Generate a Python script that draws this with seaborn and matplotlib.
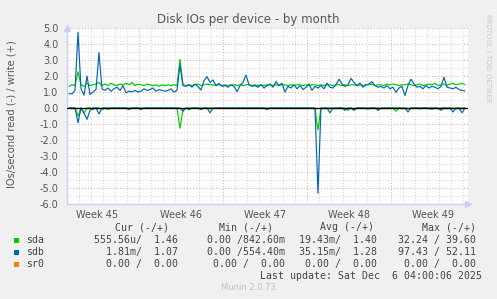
import matplotlib
matplotlib.use("Agg")
import matplotlib.pyplot as plt
import matplotlib.dates as mdates
import numpy as np
import pandas as pd
import seaborn as sns

# ---- data (6-hourly samples, Nov 3 04:00 .. Dec 6 04:00) ----
sda_write = [
    1.35, 1.45, 1.40, 2.27,
    1.45, 1.35, 1.55, 1.40,
    1.45, 1.50, 1.60, 1.40,
    1.50, 1.40, 1.55, 1.45,
    1.40, 1.50, 1.45, 1.55,
    1.45, 1.60, 1.40, 1.50,
    1.45, 1.40, 1.50, 1.45,
    1.40, 1.45, 1.35, 1.45,
    1.40, 1.45, 1.40, 1.45,
    1.40, 3.04, 1.45, 1.40,
    1.45, 1.40, 1.45, 1.50,
    1.40, 1.45, 1.50, 1.45,
    1.45, 1.40, 1.45, 1.40,
    1.45, 1.40, 1.45, 1.45,
    1.40, 1.45, 1.40, 1.45,
    1.45, 1.40, 1.45, 1.40,
    1.45, 1.40, 1.45, 1.45,
    1.40, 1.45, 1.40, 1.45,
    1.45, 1.40, 1.45, 1.40,
    1.45, 1.45, 1.40, 1.45,
    1.40, 1.45, 1.45, 1.40,
    1.45, 1.40, 1.45, 1.45,
    1.40, 1.45, 1.45, 1.40,
    1.45, 1.40, 1.45, 1.45,
    1.40, 1.45, 1.40, 1.45,
    1.45, 1.50, 1.40, 1.45,
    1.45, 1.40, 1.50, 1.45,
    1.50, 1.45, 1.40, 1.45,
    1.45, 1.50, 1.45, 1.40,
    1.45, 1.50, 1.40, 1.45,
    1.50, 1.45, 1.55, 1.40,
    1.45, 1.50, 1.40, 1.50,
    1.55, 1.45, 1.50, 1.55,
    1.46,
]
sdb_write = [
    0.90, 0.88, 1.10, 4.73,
    1.20, 0.80, 2.00, 0.85,
    1.00, 1.15, 3.46, 1.20,
    1.10, 1.25, 1.05, 1.20,
    1.30, 1.10, 1.40, 0.95,
    1.05, 1.00, 1.10, 1.00,
    1.05, 1.20, 1.10, 1.15,
    1.25, 1.05, 1.15, 1.10,
    1.05, 1.10, 1.20, 1.00,
    1.10, 2.69, 1.40, 1.35,
    1.45, 1.30, 1.50, 1.35,
    1.12, 1.70, 1.96, 1.60,
    1.75, 1.40, 1.55, 1.35,
    1.40, 1.30, 1.45, 1.35,
    1.02, 1.40, 1.60, 2.06,
    1.45, 1.35, 1.40, 1.30,
    1.45, 1.25, 1.40, 1.50,
    1.30, 1.65, 1.40, 1.55,
    1.00, 1.35, 1.25, 1.45,
    1.20, 1.40, 1.15, 1.30,
    1.50, 1.10, 1.35, 1.25,
    1.40, 1.20, 1.55, 1.30,
    1.25, 1.45, 1.80, 1.50,
    1.35, 1.45, 1.85, 1.60,
    1.40, 1.55, 1.30, 1.45,
    1.50, 1.65, 1.40, 1.30,
    1.35, 1.25, 1.40, 1.20,
    1.30, 0.98, 1.25, 1.35,
    0.78, 1.40, 1.80, 1.50,
    1.30, 1.35, 1.20, 1.40,
    1.25, 1.35, 1.30, 1.20,
    1.35, 1.92, 1.30, 1.25,
    1.20, 1.30, 1.15, 1.10,
    1.07,
]
sda_read = [
    0.00, 0.00, 0.00, 0.50,
    0.00, 0.30, 0.00, 0.00,
    0.10, 0.00, 0.00, 0.10,
    0.00, 0.10, 0.00, 0.00,
    0.00, 0.00, 0.00, 0.00,
    0.00, 0.00, 0.00, 0.00,
    0.00, 0.00, 0.00, 0.00,
    0.00, 0.00, 0.00, 0.00,
    0.00, 0.00, 0.00, 0.00,
    0.00, 1.27, 0.10, 0.00,
    0.00, 0.00, 0.00, 0.00,
    0.00, 0.00, 0.00, 0.00,
    0.00, 0.00, 0.00, 0.00,
    0.00, 0.00, 0.00, 0.00,
    0.00, 0.00, 0.00, 0.00,
    0.00, 0.00, 0.00, 0.00,
    0.00, 0.00, 0.00, 0.00,
    0.00, 0.00, 0.00, 0.00,
    0.00, 0.00, 0.00, 0.00,
    0.00, 0.00, 0.00, 0.00,
    0.00, 0.00, 0.05, 1.37,
    0.00, 0.05, 0.00, 0.00,
    0.00, 0.05, 0.00, 0.00,
    0.00, 0.15, 0.00, 0.10,
    0.00, 0.00, 0.00, 0.05,
    0.05, 0.00, 0.00, 0.00,
    0.05, 0.00, 0.05, 0.00,
    0.00, 0.20, 0.00, 0.05,
    0.00, 0.05, 0.00, 0.00,
    0.00, 0.05, 0.00, 0.00,
    0.05, 0.08, 0.00, 0.05,
    0.00, 0.00, 0.05, 0.00,
    0.00, 0.05, 0.00, 0.00,
    0.00,
]
sdb_read = [
    0.00, 0.00, 0.00, 0.92,
    0.00, 0.33, 0.71, 0.15,
    0.00, 0.00, 0.37, 0.00,
    0.00, 0.00, 0.00, 0.00,
    0.00, 0.00, 0.00, 0.00,
    0.10, 0.00, 0.00, 0.00,
    0.10, 0.00, 0.00, 0.00,
    0.00, 0.00, 0.00, 0.00,
    0.00, 0.00, 0.00, 0.00,
    0.00, 0.00, 0.20, 0.00,
    0.10, 0.00, 0.00, 0.00,
    0.10, 0.00, 0.00, 0.30,
    0.00, 0.00, 0.00, 0.00,
    0.00, 0.00, 0.00, 0.00,
    0.00, 0.00, 0.00, 0.00,
    0.00, 0.00, 0.00, 0.00,
    0.00, 0.00, 0.10, 0.00,
    0.00, 0.00, 0.00, 0.00,
    0.00, 0.00, 0.00, 0.00,
    0.00, 0.00, 0.00, 0.00,
    0.00, 0.00, 0.00, 5.33,
    0.00, 0.00, 0.00, 0.30,
    0.00, 0.00, 0.00, 0.00,
    0.15, 0.00, 0.00, 0.15,
    0.00, 0.00, 0.00, 0.00,
    0.00, 0.00, 0.00, 0.15,
    0.00, 0.00, 0.00, 0.00,
    0.00, 0.00, 0.00, 0.00,
    0.00, 0.25, 0.00, 0.00,
    0.00, 0.00, 0.00, 0.00,
    0.00, 0.00, 0.00, 0.00,
    0.15, 0.00, 0.00, 0.00,
    0.25, 0.00, 0.00, 0.30,
    0.00,
]
devices = ["sda", "sdb", "sr0"]
dev_colors = ["#00CC00", "#0066B3", "#FF8000"]
week_labels = ["Week 45", "Week 46", "Week 47", "Week 48", "Week 49"]
y_ticks = [5, 4, 3, 2, 1, 0, -1, -2, -3, -4, -5, -6]
legend_rows = [
    ["sda", "555.56u/  1.46", "0.00 /842.60m", "19.43m/  1.40", "32.24 / 39.60"],
    ["sdb", "1.81m/  1.07", "0.00 /554.40m", "35.15m/  1.28", "97.43 / 52.11"],
    ["sr0", "0.00 /  0.00", "0.00 /  0.00", "0.00 /  0.00", "0.00 /  0.00"],
]

times = pd.date_range("2025-11-03 04:00", periods=len(sda_write), freq="6h")
n = len(times)
df = pd.DataFrame({
    "time": np.concatenate([times] * 6),
    "value": np.concatenate([sda_write, -np.array(sda_read), sdb_write, -np.array(sdb_read),
                             np.zeros(n), np.zeros(n)]),
    "series": (["sda_w"] * n + ["sda_r"] * n + ["sdb_w"] * n + ["sdb_r"] * n
               + ["sr0_w"] * n + ["sr0_r"] * n),
})

sns.set_style("white")
plt.rcParams["font.family"] = ["DejaVu Sans"]

W, H = 497, 299
fig = plt.figure(figsize=(W / 100, H / 100), dpi=100, facecolor="#F0F0F0")
ax = fig.add_axes([67 / W, 1 - 204 / H, 401 / W, 176 / H])
ax.set_facecolor("white")

t0 = pd.Timestamp("2025-11-03 00:00")
t1 = t0 + pd.Timedelta(days=33.42)
x0, x1 = mdates.date2num(t0), mdates.date2num(t1)

# grid
for d in range(1, 34):
    xv = x0 + d
    if (d - 6) % 7 == 0:
        ax.axvline(xv, color="#E8A0A0", lw=0.7, ls=(0, (1, 2)), zorder=1)
    else:
        ax.axvline(xv, color="#D0D0D0", lw=0.7, ls=(0, (1, 2)), zorder=1)
for yv in np.arange(-6, 5.01, 0.5):
    if abs(yv - round(yv)) < 1e-9:
        ax.axhline(yv, color="#E8A0A0", lw=0.7, ls=(0, (1, 2)), zorder=1)
    else:
        ax.axhline(yv, color="#D0D0D0", lw=0.7, ls=(0, (1, 2)), zorder=1)

palette = {"sda_w": dev_colors[0], "sda_r": dev_colors[0],
           "sdb_w": dev_colors[1], "sdb_r": dev_colors[1],
           "sr0_w": dev_colors[2], "sr0_r": dev_colors[2]}
order = ["sr0_w", "sr0_r", "sda_w", "sda_r", "sdb_w", "sdb_r"]
df["time_num"] = mdates.date2num(df["time"])
sns.lineplot(data=df, x="time_num", y="value", hue="series", hue_order=order,
             palette=palette, lw=0.85, legend=False, ax=ax, zorder=3)
ax.axhline(0, color="black", lw=0.9, zorder=4)

ax.set_xlim(x0, x1)
ax.set_ylim(-6, 5)
ax.set_xlabel("")
ax.set_ylabel("")
week_pos = [x0 + 6 - 3.5 + 7 * k for k in range(len(week_labels))]
ax.set_xticks(week_pos)
ax.set_xticklabels(week_labels, fontsize=7, color="#555555")
ax.set_yticks(y_ticks)
ax.set_yticklabels([f"{v:.1f}" for v in y_ticks], fontsize=7, color="#555555")
ax.tick_params(axis="x", length=0, pad=4)
ax.tick_params(axis="y", length=2, width=0.6, color="#C8C8E8", pad=4)
for s in ["top", "right"]:
    ax.spines[s].set_visible(False)
for s in ["left", "bottom"]:
    ax.spines[s].set_color("#C8D0F0")
    ax.spines[s].set_linewidth(1.0)
# axis arrows
ax.plot([0], [1.0], marker="^", ms=4, color="#C8D0F0", transform=ax.transAxes, clip_on=False)
ax.plot([1.0], [0], marker=">", ms=4, color="#C8D0F0", transform=ax.transAxes, clip_on=False)


def P(x, y):
    return (x / W, 1 - y / H)


fig.text(*P(248.5, 19), "Disk IOs per device - by month", ha="center", va="center",
         fontsize=8.5, color="#555555")
fig.text(*P(12, 114), "IOs/second read (-) / write (+)", ha="center", va="center",
         rotation=90, fontsize=7.1, color="#555555")
fig.text(*P(488, 58), "RRDTOOL / TOBI OETIKER", ha="center", va="center", rotation=270,
         fontsize=5, color="#C8C8C8")

mono = "DejaVu Sans Mono"
fs = 7.1
tc = "#444444"
headers = ["Cur (-/+)", "Min (-/+)", "Avg (-/+)", "Max (-/+)"]
head_x = [169, 273, 374, 476]
for h, hx in zip(headers, head_x):
    fig.text(*P(hx, 227), h, ha="right", va="center", family=mono, fontsize=fs, color=tc)
col_x = [178, 285, 377, 476]
row_y = [240, 252, 264]
for (row, ry, col) in zip(legend_rows, row_y, dev_colors):
    fig.patches.append(plt.Rectangle(P(14, ry + 2.5), 5 / W, 5 / H, transform=fig.transFigure,
                                     facecolor=col, edgecolor="none"))
    fig.text(*P(26.5, ry), row[0], ha="left", va="center", family=mono, fontsize=fs, color=tc)
    for val, cx in zip(row[1:], col_x):
        fig.text(*P(cx, ry), val, ha="right", va="center", family=mono, fontsize=fs, color=tc)
fig.text(*P(482, 276), "Last update: Sat Dec  6 04:00:06 2025", ha="right", va="center",
         family=mono, fontsize=fs, color=tc)
fig.text(*P(248, 288), "Munin 2.0.73", ha="center", va="center", fontsize=6, color="#C0C0C0")

fig.savefig("out.png", dpi=100, facecolor=fig.get_facecolor())
